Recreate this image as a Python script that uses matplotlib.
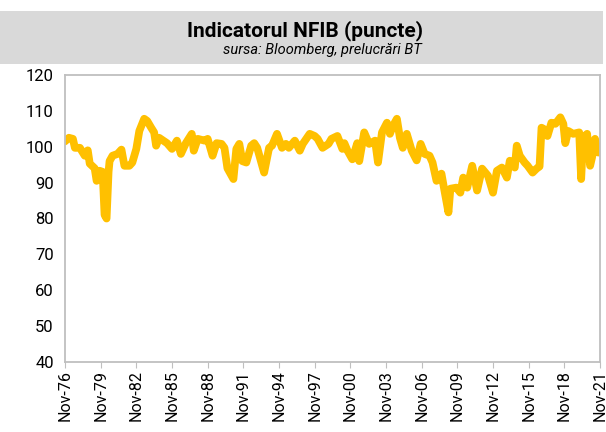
import matplotlib.pyplot as plt
import matplotlib.dates as mdates
import numpy as np
from datetime import date

# Indicatorul NFIB (puncte)
luni = [
    "1976-11", "1977-03", "1977-07", "1977-09", "1978-02", "1978-07", "1978-10", "1978-12",
    "1979-05", "1979-07", "1979-10", "1980-01", "1980-03", "1980-05", "1980-07", "1980-08",
    "1980-11", "1981-04", "1981-08", "1981-11", "1982-04", "1982-07", "1982-11", "1983-02",
    "1983-07", "1983-10", "1984-02", "1984-05", "1984-07", "1984-10", "1985-06", "1985-11",
    "1986-04", "1986-08", "1987-01", "1987-07", "1987-09", "1988-01", "1988-08", "1988-11",
    "1989-04", "1989-08", "1990-01", "1990-04", "1990-07", "1991-01", "1991-04", "1991-07",
    "1991-10", "1992-02", "1992-07", "1992-10", "1993-01", "1993-08", "1994-01", "1994-04",
    "1994-09", "1995-02", "1995-06", "1995-09", "1996-03", "1996-08", "1996-11", "1997-06",
    "1997-11", "1998-02", "1998-07", "1999-01", "1999-04", "1999-10", "2000-03", "2000-05",
    "2000-08", "2001-01", "2001-06", "2001-08", "2002-01", "2002-06", "2002-12", "2003-03",
    "2003-07", "2003-12", "2004-03", "2004-06", "2004-10", "2005-01", "2005-04", "2005-08",
    "2006-01", "2006-06", "2006-10", "2007-02", "2007-07", "2007-10", "2008-02", "2008-07",
    "2008-10", "2009-02", "2009-04", "2009-10", "2010-02", "2010-05", "2010-09", "2011-02",
    "2011-07", "2011-12", "2012-06", "2012-11", "2013-03", "2013-08", "2014-01", "2014-04",
    "2014-09", "2014-11", "2015-02", "2015-07", "2015-10", "2016-03", "2016-07", "2016-10",
    "2016-12", "2017-02", "2017-06", "2017-10", "2018-02", "2018-07", "2018-10", "2018-12",
    "2019-03", "2019-08", "2020-02", "2020-04", "2020-06", "2020-10", "2021-01", "2021-03",
    "2021-06", "2021-09", "2021-11",
]
valori = [
    101.5, 102.5, 102.2, 99.7, 99.7, 97.5, 99.0, 95.3,
    94.0, 90.5, 93.3, 93.0, 81.0, 80.0, 93.0, 96.0,
    97.5, 98.0, 99.2, 94.7, 94.7, 95.6, 99.4, 104.4,
    107.8, 107.2, 105.3, 104.0, 100.3, 102.5, 101.0, 99.4,
    101.7, 98.0, 101.0, 103.6, 98.9, 102.2, 101.7, 102.2,
    97.5, 101.0, 100.8, 99.7, 94.0, 91.0, 99.4, 100.8,
    96.0, 95.6, 100.3, 101.0, 99.7, 92.8, 99.7, 100.3,
    103.6, 99.7, 100.8, 99.7, 101.7, 98.9, 100.8, 103.6,
    103.0, 102.2, 99.7, 100.8, 102.2, 103.0, 99.4, 101.0,
    99.0, 96.5, 101.0, 96.0, 104.0, 100.8, 101.7, 95.6,
    104.0, 106.7, 103.6, 105.8, 107.8, 102.5, 99.7, 103.6,
    98.9, 96.2, 100.8, 98.0, 97.5, 95.6, 90.5, 92.5,
    87.8, 81.7, 88.3, 88.6, 87.2, 91.4, 88.6, 94.7,
    87.8, 93.9, 91.9, 87.2, 93.3, 94.2, 91.4, 96.1,
    94.2, 100.3, 97.5, 95.6, 94.7, 92.8, 93.9, 94.5,
    105.3, 105.0, 103.0, 106.7, 106.4, 108.2, 106.4, 101.0,
    104.4, 103.6, 104.0, 91.0, 102.5, 103.6, 94.7, 97.0,
    102.2, 98.4, 98.4,
]
y_ticks = [40, 50, 60, 70, 80, 90, 100, 110, 120]
ani_etichete = list(range(1976, 2022, 3))

titlu = "Indicatorul NFIB (puncte)"
subtitlu = "sursa: Bloomberg, prelucrări BT"

date_x = [date(int(s[:4]), int(s[5:]), 1) for s in luni]
tick_x = [date(a, 11, 1) for a in ani_etichete]

plt.rcParams['font.family'] = ['Roboto', 'DejaVu Sans']

fig = plt.figure(figsize=(6.06, 4.32), dpi=100)
W, H = 606, 432

# banda gri a titlului
fig.patches.append(plt.Rectangle((0, 1 - 64 / H), 603 / W, 53 / H, transform=fig.transFigure,
                                 facecolor='#D9D9D9', edgecolor='none', zorder=0))
fig.text(305 / W, 1 - 31 / H, titlu, ha='center', va='center', fontsize=15, fontweight='bold')
fig.text(322 / W, 1 - 50 / H, subtitlu, ha='center', va='center', fontsize=10.5, style='italic')

ax = fig.add_axes([65 / W, 1 - 362 / H, 535 / W, 287 / H])
ax.plot(date_x, valori, color='#FFC000', linewidth=5.6,
        solid_joinstyle='round', solid_capstyle='round')

ax.set_ylim(40, 120)
ax.set_yticks(y_ticks)
ax.set_xlim(date(1976, 11, 1), date(2021, 11, 1))
ax.set_xticks(tick_x)
ax.xaxis.set_major_formatter(mdates.DateFormatter('%b-%y'))
plt.setp(ax.get_xticklabels(), rotation=90)

for s in ax.spines.values():
    s.set_color('#BFBFBF')
    s.set_linewidth(1.3)
ax.tick_params(axis='both', colors='#BFBFBF', labelcolor='black', labelsize=12, length=4)
ax.tick_params(axis='x', labelsize=11.5, pad=2)
ax.tick_params(axis='y', length=0, pad=8)

fig.savefig('out.png', dpi=100)
